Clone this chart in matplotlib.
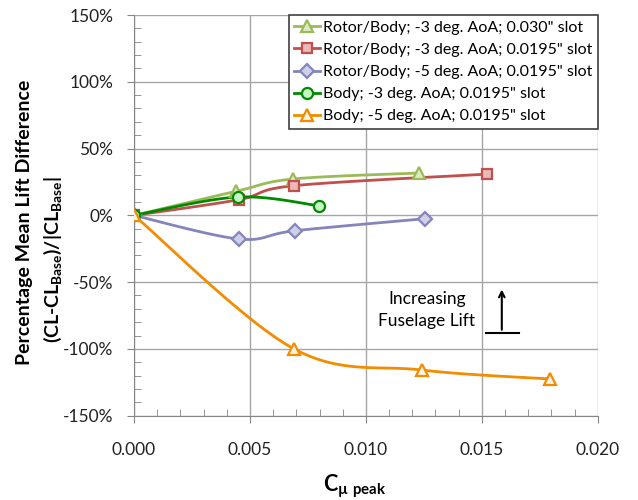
import numpy as np
import matplotlib
matplotlib.use("Agg")
import matplotlib.pyplot as plt
from matplotlib.ticker import MultipleLocator, FuncFormatter

plt.rcParams['font.family'] = ['Lato', 'DejaVu Sans']
plt.rcParams['mathtext.fontset'] = 'custom'
plt.rcParams['mathtext.rm'] = 'Lato'
plt.rcParams['mathtext.bf'] = 'Lato:bold'

# data (C_mu peak, % lift difference)
rb3_030_x = [0.0, 0.0044, 0.00685, 0.01227]
rb3_030_y = [0.0, 18.0, 27.2, 31.7]
rb3_0195_x = [0.0, 0.00451, 0.0069, 0.01524]
rb3_0195_y = [0.0, 11.7, 22.2, 30.9]
rb5_0195_x = [0.0, 0.00453, 0.00695, 0.01254]
rb5_0195_y = [0.0, -17.7, -11.5, -2.5]
b3_0195_x = [0.0, 0.00447, 0.00797]
b3_0195_y = [0.0, 13.7, 7.2]
b5_0195_x = [0.0, 0.00688, 0.01241, 0.01792]
b5_0195_y = [0.0, -99.8, -115.8, -122.5]

labels = ['Rotor/Body; -3 deg. AoA; 0.030" slot',
          'Rotor/Body; -3 deg. AoA; 0.0195" slot',
          'Rotor/Body; -5 deg. AoA; 0.0195" slot',
          'Body; -3 deg. AoA; 0.0195" slot',
          'Body; -5 deg. AoA; 0.0195" slot']


def smooth(x, y, n=40):
    # excel-like smoothed line (catmull-rom as cubic bezier)
    p = np.column_stack([x, y]).astype(float)
    pts = np.vstack([p[0], p, p[-1]])
    t = np.linspace(0, 1, n)[:, None]
    out = []
    for i in range(1, len(pts) - 2):
        p0, p1, p2, p3 = pts[i - 1], pts[i], pts[i + 1], pts[i + 2]
        c1 = p1 + (p2 - p0) / 6
        c2 = p2 - (p3 - p1) / 6
        seg = (1 - t) ** 3 * p1 + 3 * (1 - t) ** 2 * t * c1 + 3 * (1 - t) * t ** 2 * c2 + t ** 3 * p2
        out.append(seg)
    s = np.vstack(out)
    return s[:, 0], s[:, 1]


fig = plt.figure(figsize=(6.38, 5.0), dpi=100)
ax = fig.add_axes([0.210, 0.1686, 0.727, 0.8014])

series = [
    (rb3_030_x, rb3_030_y, '#9BBB59', '#dfe9c6', '^', 8),
    (rb3_0195_x, rb3_0195_y, '#C0504D', '#e9b9b8', 's', 7),
    (rb5_0195_x, rb5_0195_y, '#8585BE', '#cfcfe8', 'D', 7),
    (b3_0195_x, b3_0195_y, '#008A00', '#c6f5c6', 'o', 8),
    (b5_0195_x, b5_0195_y, '#F28C00', '#fff3e6', '^', 8),
]

for (xs, ys, col, face, mk, ms), lab in zip(series, labels):
    sx, sy = smooth(xs, ys)
    ax.plot(sx, sy, color=col, lw=2, zorder=3)
    ax.plot(xs, ys, ls='none', marker=mk, ms=ms, mfc=face, mec=col, mew=1.6, zorder=4)
    ax.plot([], [], color=col, lw=2, marker=mk, ms=ms, mfc=face, mec=col, mew=1.6, label=lab)

ax.set_xlim(0, 0.020)
ax.set_ylim(-150, 150)
ax.xaxis.set_major_locator(MultipleLocator(0.005))
ax.xaxis.set_minor_locator(MultipleLocator(0.001))
ax.yaxis.set_major_locator(MultipleLocator(50))
ax.yaxis.set_minor_locator(MultipleLocator(10))
ax.xaxis.set_major_formatter(FuncFormatter(lambda v, p: f"{v:.3f}"))
ax.yaxis.set_major_formatter(FuncFormatter(lambda v, p: f"{v:.0f}%"))
ax.grid(True, which='major', color='#a6a6a6', lw=1)
ax.set_axisbelow(True)
for s in ['top', 'right']:
    ax.spines[s].set_visible(False)
for s in ['left', 'bottom']:
    ax.spines[s].set_color('#868686')
ax.tick_params(which='major', direction='out', length=5, color='#868686',
               labelsize=12.5, labelcolor='#222222')
ax.tick_params(which='minor', direction='in', length=5, color='#868686')
ax.tick_params(axis='x', pad=14)
ax.tick_params(axis='y', pad=10)

# annotation
ax.text(0.01263, -71, 'Increasing\nFuselage Lift', ha='center', va='center',
        fontsize=12.5, color='black', linespacing=1.45)
ax.annotate('', xy=(0.01586, -53.4), xytext=(0.01586, -87.8),
            arrowprops=dict(arrowstyle='->', color='black', lw=1.5))
ax.plot([0.01517, 0.01660], [-87.8, -87.8], color='black', lw=1.5)

leg = ax.legend(loc='upper right', bbox_to_anchor=(1.0, 1.0), borderaxespad=0,
                fancybox=False, framealpha=1, edgecolor='#404040', fontsize=11.5,
                handlelength=1.6, handletextpad=0.2, labelspacing=0.5,
                borderpad=0.35)
leg.get_frame().set_linewidth(1.2)

fig.text(0.5557, 0.027, 'C$_{\\mathbf{\u00b5\\ peak}}$', ha='center', va='center',
         fontsize=15.5, fontweight='bold')
fig.text(0.039, 0.555, 'Percentage Mean Lift Difference', rotation=90,
         ha='center', va='center', fontsize=14, fontweight='bold')
fig.text(0.083, 0.48, r'(CL-CL$_{\mathbf{Base}}$)/|CL$_{\mathbf{Base}}$|', rotation=90,
         ha='center', va='center', fontsize=14, fontweight='bold')

fig.savefig('out.png', dpi=100)
